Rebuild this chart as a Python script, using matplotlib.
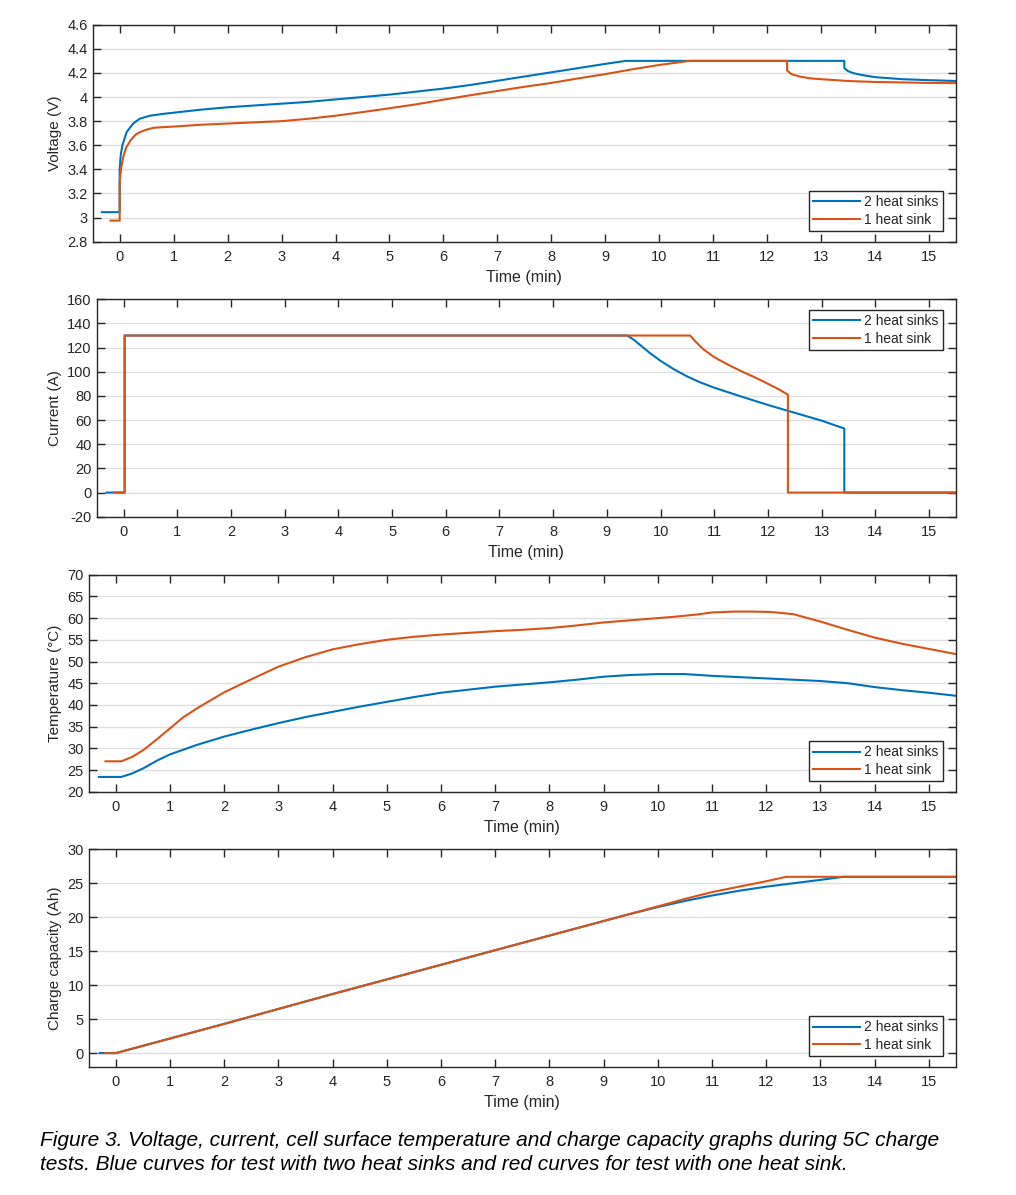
import numpy as np
import matplotlib
matplotlib.use("Agg")
import matplotlib.pyplot as plt
from matplotlib.ticker import FormatStrFormatter

plt.rcParams["font.family"] = ["Liberation Sans", "DejaVu Sans"]
plt.rcParams["axes.unicode_minus"] = False

BLUE = "#0072BD"
RED = "#D95319"
DARK = "#262626"

labels = ["2 heat sinks", "1 heat sink"]

# --- voltage (V) ---
v_t_blue = [-0.33, 0.0, 0.0, 0.02, 0.05, 0.13, 0.25, 0.37, 0.56, 0.8, 1.0, 1.5, 2, 2.5, 3, 3.5,
            4, 4.5, 5, 5.5, 6, 6.5, 7, 7.5, 8, 8.5, 9, 9.38, 13.43, 13.43, 13.5, 13.6,
            13.75, 14, 14.5, 15, 15.5]
v_blue = [3.045, 3.045, 3.40, 3.52, 3.60, 3.71, 3.78, 3.82, 3.845, 3.86, 3.87, 3.895, 3.915,
          3.93, 3.945, 3.96, 3.98, 4.0, 4.02, 4.045, 4.07, 4.10, 4.135, 4.17, 4.205, 4.24,
          4.275, 4.30, 4.30, 4.24, 4.215, 4.198, 4.183, 4.165, 4.148, 4.14, 4.133]
v_t_red = [-0.17, 0.0, 0.0, 0.03, 0.07, 0.12, 0.2, 0.3, 0.38, 0.5, 0.63, 0.8, 1.0, 1.5, 2, 2.5,
           3, 3.5, 4, 4.5, 5, 5.5, 6, 6.5, 7, 7.5, 8, 8.5, 9, 9.5, 10, 10.57, 12.37, 12.37,
           12.45, 12.6, 12.8, 13, 13.5, 14, 15, 15.5]
v_red = [2.975, 2.975, 3.30, 3.42, 3.51, 3.58, 3.64, 3.69, 3.71, 3.73, 3.745, 3.75, 3.755,
         3.77, 3.78, 3.79, 3.80, 3.82, 3.845, 3.875, 3.907, 3.94, 3.978, 4.015, 4.05, 4.085,
         4.117, 4.155, 4.19, 4.23, 4.266, 4.30, 4.30, 4.22, 4.19, 4.17, 4.155, 4.148, 4.133,
         4.125, 4.117, 4.115]

# --- current (A) ---
i_t_blue = [-0.32, 0.02, 0.02, 9.38, 9.5, 9.65, 9.8, 10.0, 10.25, 10.5, 10.75, 11.0, 11.5,
            12.0, 12.5, 13.0, 13.42, 13.42, 15.5]
i_blue = [0, 0, 130, 130, 126.5, 121, 115.5, 109, 102, 96, 91, 86.8, 79.5, 72.5, 66, 59.5,
          53.0, 0, 0]
i_t_red = [-0.18, 0.02, 0.02, 10.55, 10.65, 10.8, 11.0, 11.25, 11.5, 11.75, 12.0, 12.2,
           12.37, 12.37, 15.5]
i_red = [0, 0, 130, 130, 125, 118.5, 112, 106, 100.5, 95.5, 90, 85.5, 81.0, 0, 0]

# --- temperature (degC) ---
t_t_blue = [-0.31, 0.1, 0.3, 0.51, 0.75, 1.0, 1.5, 2, 2.5, 3, 3.5, 4, 4.5, 5, 5.5, 6, 6.5, 7,
            7.5, 8, 8.5, 9, 9.5, 10, 10.5, 11, 11.5, 12, 12.5, 13, 13.5, 14, 14.5, 15, 15.5]
temp_blue = [23.4, 23.4, 24.2, 25.4, 27.1, 28.6, 30.8, 32.7, 34.3, 35.8, 37.2, 38.4, 39.6,
             40.7, 41.8, 42.8, 43.5, 44.2, 44.7, 45.2, 45.8, 46.5, 46.9, 47.1, 47.1, 46.7,
             46.4, 46.1, 45.8, 45.5, 45.0, 44.1, 43.4, 42.8, 42.1]
t_t_red = [-0.19, 0.1, 0.3, 0.51, 0.75, 1.0, 1.25, 1.55, 2, 2.5, 3, 3.5, 4, 4.5, 5, 5.5, 6,
           6.5, 7, 7.5, 8, 8.5, 9, 9.5, 10, 10.3, 10.7, 11, 11.4, 11.75, 12.1, 12.5, 13, 13.5,
           14, 14.5, 15, 15.5]
temp_red = [27.0, 27.0, 28.0, 29.6, 32.0, 34.6, 37.2, 39.6, 42.9, 45.9, 48.8, 51.0, 52.8,
            54.0, 55.0, 55.7, 56.2, 56.6, 57.0, 57.3, 57.7, 58.3, 59.0, 59.5, 60.0, 60.3,
            60.8, 61.3, 61.5, 61.5, 61.4, 60.9, 59.2, 57.3, 55.5, 54.1, 52.9, 51.7]

# --- charge capacity (Ah) ---
q_t_blue = [-0.3, 0, 2, 4, 6, 8, 9.4, 10, 10.5, 11, 11.5, 12, 12.5, 13, 13.42, 15.5]
q_blue = [0, 0, 4.3, 8.7, 13.0, 17.3, 20.3, 21.5, 22.4, 23.2, 23.9, 24.5, 25.0, 25.5, 25.95,
          25.95]
q_t_red = [-0.2, 0, 2, 4, 6, 8, 9.4, 10, 10.55, 11, 11.5, 12, 12.37, 15.5]
q_red = [0, 0, 4.3, 8.7, 13.0, 17.3, 20.3, 21.6, 22.8, 23.7, 24.5, 25.3, 25.95, 25.95]

x_ticks = list(range(0, 16))

W, H = 1016, 1195
fig = plt.figure(figsize=(W / 100, H / 100), dpi=100)


def make_ax(left, top, right, bottom):
    return fig.add_axes([left / W, 1 - bottom / H, (right - left) / W, (bottom - top) / H])


panels = [
    dict(box=(92.7, 24.7, 956, 241.7), ylim=(2.8, 4.6), yticks=np.arange(2.8, 4.61, 0.2),
         ylabel="Voltage (V)", data=(v_t_blue, v_blue, v_t_red, v_red), loc="lower right"),
    dict(box=(96.7, 299.3, 956, 516.7), ylim=(-20, 160), yticks=range(-20, 161, 20),
         ylabel="Current (A)", data=(i_t_blue, i_blue, i_t_red, i_red), loc="upper right"),
    dict(box=(88.7, 574.7, 956, 791.7), ylim=(20, 70), yticks=range(20, 71, 5),
         ylabel="Temperature (°C)", data=(t_t_blue, temp_blue, t_t_red, temp_red),
         loc="lower right"),
    dict(box=(88.7, 849.3, 956, 1066.7), ylim=(-2, 30), yticks=range(0, 31, 5),
         ylabel="Charge capacity (Ah)", data=(q_t_blue, q_blue, q_t_red, q_red),
         loc="lower right"),
]

for p in panels:
    left, top, right, bottom = p["box"]
    ax = make_ax(left, top, right, bottom)
    tb, yb, tr, yr = p["data"]
    ax.plot(tb, yb, color=BLUE, lw=1.5, label=labels[0])
    ax.plot(tr, yr, color=RED, lw=1.5, label=labels[1])
    ax.set_xlim(-0.5, 15.5)
    ax.set_ylim(*p["ylim"])
    ax.set_xticks(x_ticks)
    ax.set_yticks(list(p["yticks"]))
    ax.yaxis.set_major_formatter(FormatStrFormatter("%g"))
    ax.grid(axis="y", color="#dfdfdf", lw=1.0)
    ax.set_axisbelow(True)
    for s in ax.spines.values():
        s.set_color(DARK)
        s.set_linewidth(1.0)
    ax.tick_params(direction="in", top=True, right=True, length=6, width=1.0,
                   color=DARK, labelcolor=DARK, labelsize=10.5)
    ax.tick_params(axis="x", pad=6)
    ax.tick_params(axis="y", pad=3.5)
    ax.set_xlabel("Time (min)", fontsize=11.5, color=DARK, labelpad=4)
    ax.set_ylabel(p["ylabel"], fontsize=11, color=DARK)
    ax.yaxis.set_label_coords((62.5 - left) / (right - left), 0.5)

    aw, ah = right - left, bottom - top
    if p["loc"] == "lower right":
        anchor = ((943 - left) / aw, 10.7 / ah)
    else:
        anchor = ((943 - left) / aw, 1 - 10.7 / ah)
    leg = ax.legend(loc=p["loc"], bbox_to_anchor=anchor, borderaxespad=0, fontsize=10,
                    frameon=True, fancybox=False, framealpha=1, edgecolor=DARK,
                    handlelength=3.4, handletextpad=0.3, borderpad=0.3, labelspacing=0.25)
    leg.get_frame().set_linewidth(1.0)
    for txt in leg.get_texts():
        txt.set_color(DARK)

caption_lines = [
    "Figure 3. Voltage, current, cell surface temperature and charge capacity graphs during 5C charge",
    "tests. Blue curves for test with two heat sinks and red curves for test with one heat sink.",
]
for k, line in enumerate(caption_lines):
    fig.text(40 / W, 1 - (1146 + 24 * k) / H, line, fontsize=15, style="italic",
             va="baseline", ha="left", color="black")

fig.savefig("out.png", dpi=100)
